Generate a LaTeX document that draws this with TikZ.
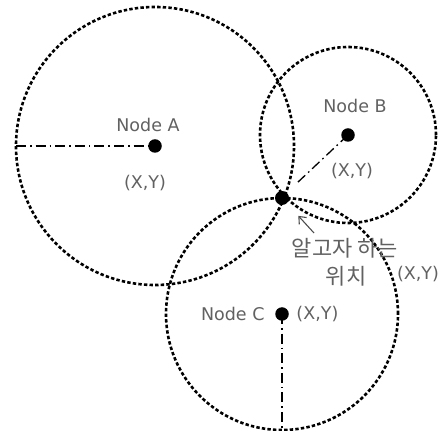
\documentclass[tikz,border=0pt]{standalone}
\usepackage{fontspec}
\setmainfont{DejaVu Sans}
\newfontfamily\krfont{Noto Sans CJK KR}
\usetikzlibrary{positioning,arrows.meta}

\tikzset{
  ring/.style={line width=2.6pt, dash pattern=on 3.4pt off 2.2pt},
  dot/.style={circle, fill=black, inner sep=0pt, minimum size=13.5pt},
  rline/.style={line width=1.3pt, dash pattern=on 10pt off 4pt on 1.6pt off 4pt},
  lbl/.style={text=black!62, font=\fontsize{17.5}{20}\selectfont},
  krlbl/.style={text=black!62, font=\krfont\fontsize{22}{26}\selectfont}
}

\begin{document}
\begin{tikzpicture}[x=1pt, y=1pt]
			\useasboundingbox (0,0) rectangle (443,430);
			
			% Posizione dei nodi
			\node[dot] (a) at (155,284) {};
			\node[dot] (b) at (348,295) {};
			\node[dot] (c) at (282,116) {};
			\node[dot, minimum size=14pt] (p) at (282,232) {};
			
			% Raggi di copertura
			\draw[ring] (a.center) circle[radius=139pt];
			\draw[ring] (b.center) circle[radius=88pt];
			\draw[ring] (c.center) circle[radius=116pt];
			
			% Linee del raggio
			\coordinate (ra) at (16,284);
			\coordinate (rb) at (297,247);
			\coordinate (rc) at (282,0);
			\draw[rline] (ra) -- (a.center);
			\draw[rline] (b.center) -- (rb);
			\draw[rline] (c.center) -- (rc);
			
			% Etichette dei nodi
			\node[lbl] at (148,305) {Node A};
			\node[lbl] at (145,247) {(X,Y)};
			\node[lbl] at (355,324) {Node B};
			\node[lbl] at (352,259) {(X,Y)};
			\node[lbl, left=7pt of c] {Node C};
			\node[lbl, right=4pt of c] {(X,Y)};
			
			% Posizione cercata
			\coordinate (tail) at (314,197);
			\draw[line width=1.1pt, black!70, -{Straight Barb[length=6pt, width=10pt]}, shorten >=17pt] (tail) -- (p);
			\node[krlbl] at (345,182) {알고자 하는};
			\node[krlbl] at (346,154) {위치};
			\node[lbl] at (418,156) {(X,Y)};
			
		\end{tikzpicture}
\end{document}
